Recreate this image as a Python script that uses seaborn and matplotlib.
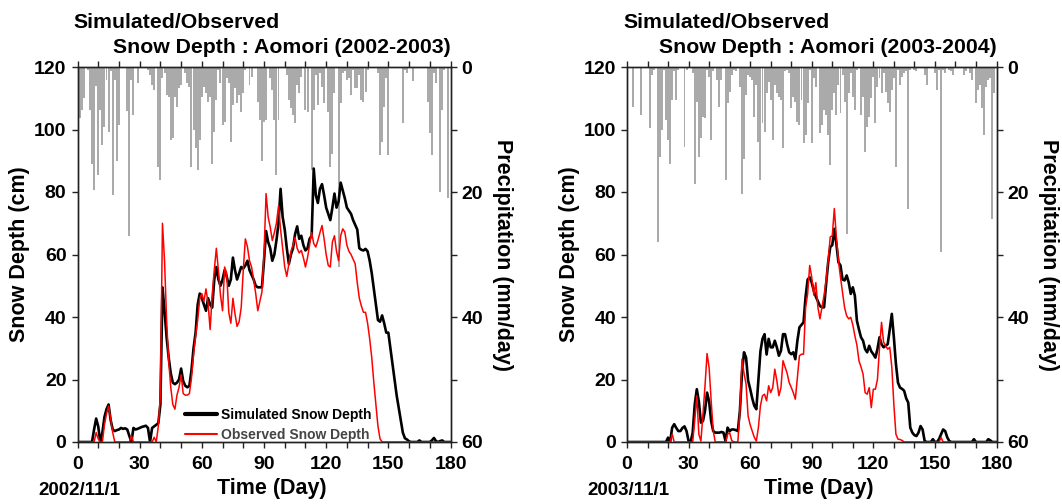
import numpy as np
import matplotlib
matplotlib.use("Agg")
import matplotlib.pyplot as plt
from matplotlib.lines import Line2D
import seaborn as sns

# day 0 = 1 Nov, snow depth for days 0..180, precipitation for days 0..179
days = np.arange(181)
rain_days = np.arange(180)

# ---- 2002-2003 ----
sim_0203 = [
    0, 0, 0, 0, 0, 0, 0, 0, 4, 7.5,
    5, 0, 3, 8, 10.5, 12, 7, 4, 3.5, 3.8,
    4, 4.5, 4.2, 4.4, 4, 2, 0, 4.5, 4, 4.2,
    4.5, 4.8, 5, 5.2, 4.5, 0, 4.5, 5, 5.5, 6,
    12, 49.5, 42, 33.5, 27, 22, 19, 18.5, 19, 20,
    23.5, 19.5, 18, 17.5, 18, 23, 30, 35, 44, 47.5,
    46, 44, 42, 46, 44, 43, 52, 56, 52, 50,
    52, 55, 53, 50, 52, 59, 55, 52, 54, 56,
    55.5, 56.5, 58, 55, 53.5, 52, 50, 49.5, 49.5, 49.5,
    58, 67.5, 64, 62, 58, 60, 64.5, 70, 81, 72,
    68, 62, 57, 60, 62, 66.5, 69, 65, 66, 63,
    61.3, 62, 65, 66, 87.5, 79, 76.5, 81, 82.5, 79,
    75, 73, 71, 75, 79.5, 75, 77, 83, 80.5, 78,
    75, 74, 73, 71, 69.5, 68, 62, 61.5, 61.3, 61.8,
    61, 58, 54, 49, 44, 39, 38.5, 40.5, 38, 35,
    35, 30, 25, 20, 15, 11, 7, 3, 1.2, 0.8,
    0.2, 0, 0, 0, 0, 0.5, 0, 0, 0, 0,
    0, 0.5, 1.3, 0.3, 0, 0.3, 0.5, 0, 0, 0,
    0,
]
obs_0203 = [
    0, 0, 0, 0, 0, 0, 0, 0, 0, 3,
    1, 0, 0, 5.5, 9, 11.5, 7.5, 3, 0, 0,
    0, 0, 0, 0, 0, 0, 2, 0, 0, 0,
    0, 0, 0, 0, 0, 0, 0, 1.5, 0, 5,
    15, 70, 58, 39, 26, 17.5, 12, 10.5, 15, 17.5,
    21.5, 15.5, 15, 15, 15.5, 20.5, 28, 34, 39, 46,
    47.5, 45, 49, 44.5, 36, 47, 55, 62, 55, 47,
    42, 56, 54, 41.5, 38, 46, 41, 37, 38.5, 43,
    55, 65, 62.5, 58, 56, 52, 47.5, 42, 45, 48,
    60, 79.5, 72, 68.8, 64.5, 67, 70, 75.5, 68, 62,
    56, 53, 57, 61, 63, 65.5, 62, 60.5, 61.3, 59,
    56, 59, 63, 67, 63.5, 62.4, 64.5, 67, 69.3, 65,
    60, 56.5, 56, 64, 66, 61, 58, 66, 68.2, 67.2,
    63, 61, 60, 58.5, 57, 51, 46, 43.5, 41.5, 41.5,
    38, 33, 27, 19, 12, 5, 1, 0, 0, 0,
    0, 0, 0, 0, 0, 0, 0, 0, 0, 0,
    0, 0, 0, 0, 0, 0, 0, 0, 0, 0,
    0, 0, 0, 0, 0, 0, 0, 0, 0, 0,
    0,
]
rain_0203 = [
    15.7, 8.2, 6.9, 5.0, 0.2, 0.5, 6.9, 15.5, 19.7, 3,
    17.3, 6.9, 12.5, 9.6, 2, 10.4, 0.7, 20.5, 2, 15,
    9.3, 0, 0, 0, 7, 27, 2, 7.7, 0.2, 2.6,
    0, 0, 0, 0, 0.5, 1.3, 2.9, 3.7, 0.2, 16,
    18, 1.8, 1, 4.5, 4.8, 11.7, 11.4, 4.8, 6.4, 3.4,
    2.9, 0.2, 1, 2.6, 3.2, 16, 10.1, 13, 16.5, 11.7,
    4.8, 3.2, 4.2, 5.6, 4.8, 15.5, 10.4, 5.3, 0.5, 2.6,
    9.3, 8.8, 1.8, 2.6, 12, 6.1, 3.4, 5.8, 4.5, 7.2,
    4.2, 0.5, 0, 2.9, 1.6, 0.2, 0, 5.6, 8.5, 15,
    8.8, 8.5, 0, 1.8, 3.7, 8.5, 17.3, 8.5, 0.2, 0,
    0, 1.3, 5.3, 6.6, 7.7, 9, 2.9, 4.2, 1.6, 0.2,
    6.9, 7.2, 0, 16.5, 6.9, 1.3, 6.1, 1, 3.2, 5.8,
    0.2, 7.2, 16, 13.9, 4.2, 0, 32, 5.8, 1, 0.7,
    2, 1.8, 4.5, 0.5, 3.4, 3.4, 1.3, 5.3, 5.6, 4,
    0.5, 0, 0, 0, 0, 1, 14, 12, 6.4, 1.8,
    14, 0.2, 0, 0, 0, 0, 0, 9, 0.5, 1,
    0, 0.2, 2.3, 0, 0, 0, 0, 0, 0, 5.6,
    10.6, 14.1, 1, 2.6, 0.2, 20, 6.9, 0.5, 0, 21,
]

# ---- 2003-2004 ----
sim_0304 = [
    0, 0, 0, 0, 0, 0, 0, 0, 0, 0,
    0, 0, 0, 0, 0, 0, 0, 0, 0, 0,
    1.4, 0, 4.6, 5.7, 4.5, 3.5, 3.5, 4.5, 5, 3.5,
    0.3, 0, 3, 12, 16.9, 13, 6.2, 6.7, 10, 15.8,
    13, 6.7, 3.5, 3, 3, 3, 3.2, 3, 0.3, 4.6,
    3.5, 4, 4, 3.8, 3.5, 10, 22, 28.7, 27, 19.6,
    17, 14, 11.6, 10.5, 19.6, 29, 33, 34.5, 28, 33,
    30.3, 30.3, 32.4, 30.3, 27.6, 29.2, 34.5, 34.5, 31.3, 28.7,
    28.1, 28.7, 26.5, 32.4, 36.7, 37.5, 38.3, 46.5, 52, 52.7,
    51, 48.4, 46.5, 45, 43.5, 43.1, 43.1, 50.6, 57.5, 62.4,
    63, 68.2, 63.4, 57.5, 56.5, 52, 51.7, 53.3, 51.1, 47.4,
    49.5, 46.8, 38.8, 36, 33.5, 32.4, 29.7, 28.7, 30.8, 29,
    28.1, 27, 29.7, 33.5, 31.3, 30.3, 30.8, 31.3, 36, 41,
    33.5, 25, 19, 17.4, 17, 16.4, 14, 12.6, 4.6, 3,
    2.2, 1.9, 3, 5.1, 4, 0.3, 0, 0, 0, 0.9,
    0, 0, 0.9, 2.5, 4, 3.5, 1.5, 0.3, 0, 0,
    0, 0, 0, 0, 0, 0, 0, 0, 0, 0.9,
    0, 0, 0, 0, 0, 0, 0.9, 0.5, 0, 0,
    0,
]
obs_0304 = [
    0, 0, 0, 0, 0, 0, 0, 0, 0, 0,
    0, 0, 0, 0, 0, 0, 0, 0, 0, 0,
    0, 0, 2.5, 0, 0, 0, 0, 0, 0, 0,
    0, 0, 0, 7, 14.8, 2.5, 0.3, 8.9, 18, 28.3,
    23.8, 13.2, 3.5, 0, 0, 0, 0, 0, 0, 2.5,
    3, 0.5, 0, 0, 0, 10, 26.5, 22, 18.5, 8.3,
    5.5, 3.5, 1.5, 0.3, 4.6, 11.6, 14.8, 15.3, 13.2, 18,
    15.8, 17.4, 23.3, 19.6, 14.8, 17.4, 26, 24, 22, 19,
    17.5, 15.8, 13.7, 20.6, 27.6, 28.1, 28.1, 43, 47.4, 56.5,
    52.7, 47, 51, 43.1, 39.4, 43.1, 47, 51.7, 58, 65.6,
    66, 74.7, 65.6, 58, 52.7, 47.9, 43, 40.4, 39.4, 39.9,
    37.5, 34, 31, 26, 24, 21.7, 15.8, 15.3, 17.4, 11,
    16.9, 16.9, 20, 30, 38.3, 32, 30.8, 29.7, 30.3, 24,
    12, 2.5, 0.9, 0.8, 0.5, 0, 0, 0, 0, 0,
    0, 0, 0, 0, 0, 0, 0, 0, 0, 0,
    0, 0, 0, 1.4, 0, 0, 0, 0, 0, 0,
    0, 0, 0, 0, 0, 0, 0, 0, 0, 0,
    0, 0, 0, 0, 0, 0, 0, 0, 0, 0,
    0,
]
rain_0304 = [
    0, 0, 0, 6.4, 0, 0, 0, 7.7, 0, 0,
    0, 9.8, 1.3, 0.5, 0, 28, 14.4, 10.1, 0.5, 8.5,
    11.7, 15.5, 5.3, 0.7, 5.3, 0.5, 0, 0, 12.8, 0.5,
    0, 0, 1, 18.7, 5.6, 14.4, 11.4, 8, 8.2, 0.5,
    1.6, 11.7, 0.7, 0.2, 2, 6.4, 2, 0.2, 18.1, 5.8,
    4, 1.3, 0.5, 0.7, 0.2, 3.2, 20.3, 14.7, 4.5, 1.3,
    1.6, 2, 8, 2.9, 12, 18.1, 9, 10.4, 4.2, 2.4,
    5.3, 11.7, 2.9, 4.2, 4.8, 5.3, 13, 0.7, 0.5, 1,
    6.6, 4.8, 5.6, 8.8, 9.3, 5.3, 12.2, 10.9, 5.8, 0.5,
    12.2, 1.8, 3.2, 0.2, 10.6, 9.3, 6.9, 7.7, 10.9, 15.7,
    6.9, 4.2, 7.7, 2.9, 7.4, 1.3, 5.6, 26.7, 4.2, 1,
    4.8, 6.9, 0.5, 0, 7.7, 4.8, 13.6, 9.6, 8, 5,
    1.6, 9, 3.2, 1.8, 4.2, 1, 4, 5.8, 7.2, 3.7,
    1.8, 16, 0.5, 2.9, 1.6, 1, 0.7, 22.7, 0.5, 0,
    0.5, 0.7, 0, 0, 0, 1.3, 2.9, 0.2, 0, 0,
    1, 3.7, 0.5, 29.6, 0.5, 1, 0, 0.5, 0.7, 1.3,
    0, 0, 0, 0, 1.3, 0.7, 0, 1, 2, 0,
    5.8, 3.7, 2.9, 6.6, 10.9, 3.2, 2, 1.8, 24.3, 4.2,
]

sns.set_theme(style="ticks")
plt.rcParams["font.family"] = ["Liberation Sans", "DejaVu Sans"]
plt.rcParams["font.weight"] = "bold"
plt.rcParams["axes.labelweight"] = "bold"
plt.rcParams["text.color"] = "black"
plt.rcParams["axes.labelcolor"] = "black"
plt.rcParams["xtick.color"] = "black"
plt.rcParams["ytick.color"] = "black"

W, H = 1062, 504
fig = plt.figure(figsize=(W / 100, H / 100), dpi=100)
fig.patch.set_facecolor("white")

SPINE = "#222222"


def draw_panel(left_px, width_px, sim, obs, rain, season, start_date, legend):
    ax = fig.add_axes([left_px / W, 62 / H, width_px / W, 375 / H])
    ax2 = ax.twinx()

    # precipitation hangs from the top
    ax2.bar(rain_days, rain, width=0.95, color="#aaaaaa", linewidth=0)
    ax2.set_ylim(60, 0)
    ax2.set_yticks(range(0, 61, 10))
    ax2.set_yticklabels([str(v) if v % 20 == 0 else "" for v in range(0, 61, 10)])
    ax2.set_ylabel("Precipitation (mm/day)", fontsize=15.5, rotation=270)
    ax2.yaxis.set_label_coords(1.14, 0.5)
    ax2.yaxis.label.set_va("center")
    ax2.yaxis.label.set_ha("center")

    sns.lineplot(x=days, y=sim, ax=ax, color="black", linewidth=1.9)
    sns.lineplot(x=days, y=obs, ax=ax, color="#ff0000", linewidth=1.1)

    ax.set_zorder(ax2.get_zorder() + 1)
    ax.patch.set_visible(False)

    ax.set_xlim(0, 180)
    ax.set_ylim(0, 120)
    ax.set_xticks(range(0, 181, 10))
    ax.set_xticklabels([str(t) if t % 30 == 0 else "" for t in range(0, 181, 10)])
    ax.set_yticks(range(0, 121, 20))
    ax.set_xlabel("")
    ax.set_ylabel("Snow Depth (cm)", fontsize=15.5)
    ax.yaxis.set_label_coords(-0.155, 0.5)
    ax.yaxis.label.set_va("center")
    ax.yaxis.label.set_ha("center")

    for a in (ax, ax2):
        a.tick_params(direction="out", length=4, width=1, color=SPINE,
                      labelsize=14, pad=4, labelcolor="black")
        for s in a.spines.values():
            s.set_linewidth(1)
            s.set_color(SPINE)
    ax.tick_params(axis="x", top=True, pad=6)

    ax.text(0.52, -0.125, "Time (Day)", transform=ax.transAxes,
            ha="center", va="center", fontsize=15.5)
    ax.text(0.005, -0.13, start_date, transform=ax.transAxes,
            ha="center", va="center", fontsize=13.5)

    x0 = (left_px - 4) / W
    x1 = (left_px + width_px) / W
    fig.text(x0, 1 - 28.5 / H, "Simulated/Observed", ha="left",
             va="baseline", fontsize=15.3)
    fig.text(x1, 1 - 53 / H, "Snow Depth : Aomori (%s)" % season, ha="right",
             va="baseline", fontsize=15.3)

    if legend:
        handles = [Line2D([], [], color="black", lw=3),
                   Line2D([], [], color="#ff0000", lw=1.5)]
        leg = ax.legend(handles, ["Simulated Snow Depth", "Observed Snow Depth"],
                        loc="upper left", bbox_to_anchor=(0.288, 0.092),
                        frameon=False, fontsize=10, handlelength=2.3,
                        handletextpad=0.3, labelspacing=0.45,
                        borderpad=0, borderaxespad=0)
        leg.get_texts()[0].set_color("black")
        leg.get_texts()[1].set_color("#444444")
    return ax


draw_panel(77.5, 373, sim_0203, obs_0203, rain_0203, "2002-2003", "2002/11/1", True)
draw_panel(627, 369.5, sim_0304, obs_0304, rain_0304, "2003-2004", "2003/11/1", False)

fig.savefig("out.png", dpi=100, facecolor="white")
